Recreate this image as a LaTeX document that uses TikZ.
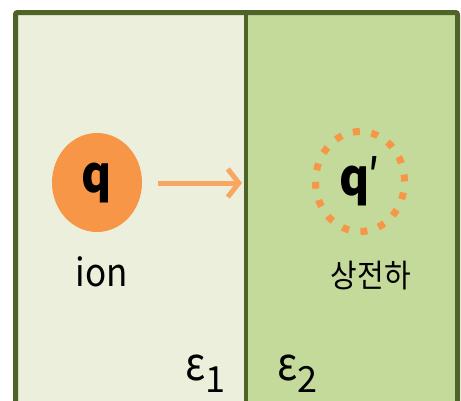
\documentclass[tikz,border=0pt]{standalone}
\usepackage{fontspec}
\setmainfont{Noto Sans CJK KR}
\usetikzlibrary{arrows.meta, positioning, shapes.geometric}
\definecolor{cborder}{HTML}{4F6228}
\definecolor{cleft}{HTML}{EBEFDC}
\definecolor{cright}{HTML}{C4DA9B}
\definecolor{corange}{HTML}{F79646}
\tikzset{
  every picture/.style={line width=1.2pt},
  charge/.style={ellipse, minimum width=90pt, minimum height=99pt, inner sep=0pt,
                 font=\fontsize{46}{46}\selectfont\bfseries},
  tag/.style={anchor=base, inner sep=0pt, font=\fontsize{#1}{#1}\selectfont},
  tag/.default=36,
  arrow/.style={-{Straight Barb[length=11pt, width=28pt, line width=5pt]}, draw=corange!85, line width=5pt},
}
\newcommand{\epsmed}[1]{\scalebox{1}[1.15]{ε}\raisebox{-12pt}{\fontsize{36}{36}\selectfont #1}}

\begin{document}
\begin{tikzpicture}[x=1pt, y=-1pt]
  \useasboundingbox (0,0) rectangle (461,400);
  % the two media
  \fill[cleft] (15.5,12.5) rectangle (245.5,420);
  \fill[cright] (245.5,12.5) rectangle (457.5,420);
  \draw[cborder, line width=5pt, rounded corners=2pt] (15.5,420) -- (15.5,12.5) -- (457.5,12.5) -- (457.5,420);
  \draw[cborder, line width=4pt] (245.5,12.5) -- (245.5,420);
  % charges
  \node[charge, fill=corange] (q) at (97,182.5) {\scalebox{1}[1.1]{q}};
  \node[charge, draw=corange, line width=7pt, dash pattern=on 7pt off 11.6pt,
        minimum width=89pt, minimum height=100pt] (qi) at (360,181.5) {\scalebox{1}[1.1]{q\kern-2pt\mdseries′}};
  \coordinate (wall) at (242,183);
  \draw[arrow] ([xshift=15pt]q.east |- wall) -- (wall);
  \node[tag=35] (ion) at (102,286) {\scalebox{1}[1.1]{ion}};
  \node[tag=29] (image) at (371,287) {\scalebox{1}[1.1]{상전하}};
  \node[tag=40, anchor=base west] (eps1) at (185,380) {\epsmed{1}};
  \node[tag=40, anchor=base west] (eps2) at (277,380) {\epsmed{2}};
\end{tikzpicture}
\end{document}
